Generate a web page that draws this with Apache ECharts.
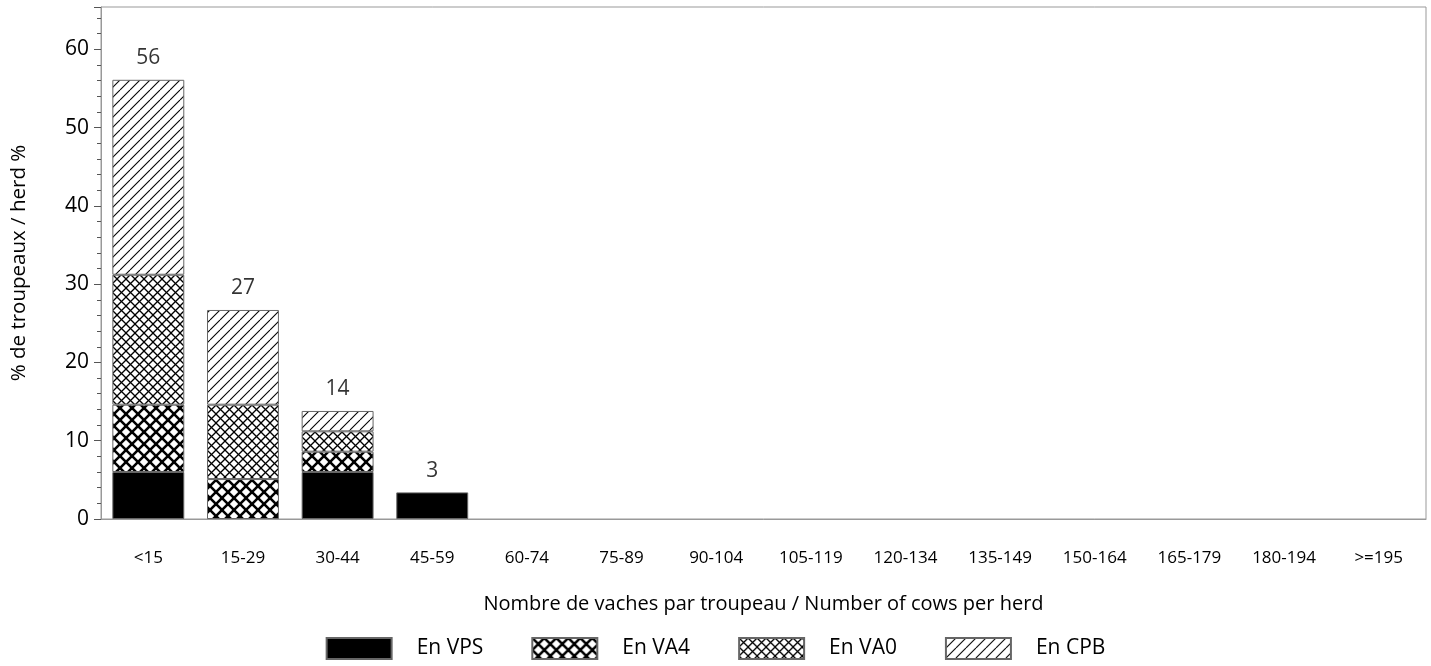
<!DOCTYPE html>
<html>
<head>
<meta charset="utf-8">
<script src="https://cdn.jsdelivr.net/npm/echarts@6/dist/echarts.min.js"></script>
<style>html,body{margin:0;padding:0;background:#fff}#c{width:1431px;height:666px}</style>
</head>
<body>
<div id="c"></div>
<script>
const categories = ['<15','15-29','30-44','45-59','60-74','75-89','90-104','105-119','120-134','135-149','150-164','165-179','180-194','>=195'];
const seriesNames = ['En VPS','En VA4','En VA0','En CPB'];
const vps = [6.0, 0, 6.0, 3.4, 0, 0, 0, 0, 0, 0, 0, 0, 0, 0];
const va4 = [8.6, 5.1, 2.6, 0, 0, 0, 0, 0, 0, 0, 0, 0, 0, 0];
const va0 = [16.6, 9.5, 2.6, 0, 0, 0, 0, 0, 0, 0, 0, 0, 0, 0];
const cpb = [24.9, 12.1, 2.6, 0, 0, 0, 0, 0, 0, 0, 0, 0, 0, 0];
const yTicks = [0, 10, 20, 30, 40, 50, 60];

const FONT = 'Open Sans';

function makeTile(size, draw) {
  const c = document.createElement('canvas');
  c.width = size; c.height = size;
  const ctx = c.getContext('2d');
  ctx.fillStyle = '#fff';
  ctx.fillRect(0, 0, size, size);
  ctx.strokeStyle = '#000';
  draw(ctx, size);
  return c;
}
function diag(ctx, s, dir) {
  for (let k = -1; k <= 1; k++) {
    ctx.beginPath();
    if (dir > 0) { ctx.moveTo(k * s, s); ctx.lineTo(k * s + s, 0); }
    else { ctx.moveTo(k * s, 0); ctx.lineTo(k * s + s, s); }
    ctx.stroke();
  }
}
const patCPB = makeTile(10, (ctx, s) => { ctx.lineWidth = 1.1; diag(ctx, s, 1); });
const patVA0 = makeTile(9, (ctx, s) => { ctx.lineWidth = 1.3; diag(ctx, s, 1); diag(ctx, s, -1); });
const patVA4 = makeTile(12, (ctx, s) => { ctx.lineWidth = 2.6; diag(ctx, s, 1); diag(ctx, s, -1); });

const fills = [
  '#000',
  { image: patVA4, repeat: 'repeat' },
  { image: patVA0, repeat: 'repeat' },
  { image: patCPB, repeat: 'repeat' }
];
const values = [vps, va4, va0, cpb];
const totals = categories.map((_, i) => vps[i] + va4[i] + va0[i] + cpb[i]);

const series = seriesNames.map((name, si) => ({
  name: name,
  type: 'bar',
  stack: 'total',
  barCategoryGap: '24%',
  data: values[si].map(v => v > 0 ? v : null),
  itemStyle: { color: fills[si], borderColor: '#666', borderWidth: 1 },
  emphasis: { disabled: true }
}));
series.push({
  name: 'total',
  type: 'scatter',
  symbolSize: 0,
  data: totals.map(v => v > 0 ? v : null),
  label: {
    show: true, position: 'top', distance: 11,
    fontFamily: FONT, fontSize: 21, color: '#000',
    formatter: p => Math.round(p.value)
  },
  silent: true
});

const chart = echarts.init(document.getElementById('c'), null, { renderer: 'canvas' });
chart.setOption({
  animation: false,
  backgroundColor: '#fff',
  grid: { left: 101, right: 5, top: 7, bottom: 147, show: true, borderColor: '#999', borderWidth: 1 },
  legend: {
    data: seriesNames,
    bottom: 1,
    left: 'center',
    icon: 'rect',
    itemWidth: 65,
    itemHeight: 21,
    itemGap: 48,
    textStyle: { fontFamily: FONT, fontSize: 21, color: '#000', padding: [0, 0, 0, 20] },
    selectedMode: false
  },
  xAxis: {
    type: 'category',
    data: categories,
    name: 'Nombre de vaches par troupeau / Number of cows per herd',
    nameLocation: 'middle',
    nameGap: 75,
    nameTextStyle: { fontFamily: FONT, fontSize: 20, color: '#000' },
    axisLine: { lineStyle: { color: '#999' } },
    axisTick: { show: false },
    axisLabel: { fontFamily: FONT, fontSize: 17, color: '#000', margin: 31, interval: 0 },
    splitLine: { show: false }
  },
  yAxis: {
    type: 'value',
    min: 0,
    max: 65.4,
    interval: 10,
    name: '% de troupeaux / herd %',
    nameLocation: 'middle',
    nameGap: 71,
    nameTextStyle: { fontFamily: FONT, fontSize: 20.5, color: '#000' },
    axisLine: { show: true, lineStyle: { color: '#999' } },
    axisTick: { show: true, length: 7, lineStyle: { color: '#555' } },
    minorTick: { show: true, splitNumber: 5, length: 4, lineStyle: { color: '#555' } },
    axisLabel: {
      fontFamily: FONT, fontSize: 21, color: '#000', margin: 12,
      formatter: v => yTicks.indexOf(v) >= 0 ? String(v) : ''
    },
    splitLine: { show: false }
  },
  series: series
});
</script>
</body>
</html>
